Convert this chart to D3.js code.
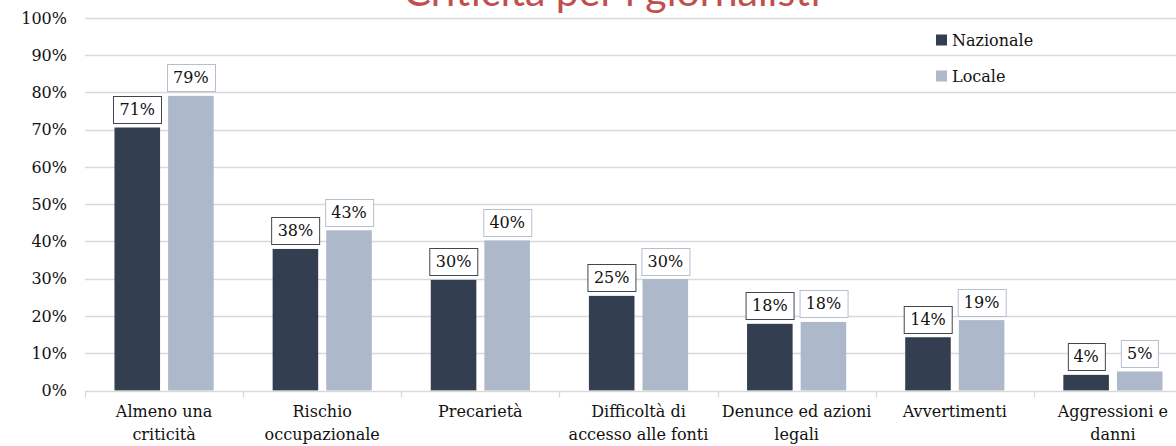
<!DOCTYPE html>
<html>
<head>
<meta charset="utf-8">
<script src="https://cdn.jsdelivr.net/npm/d3@7"></script>
<style>
  html, body { margin: 0; padding: 0; background: #fff; }
  svg { display: block; }
  text { font-family: "DejaVu Serif", serif; fill: #111; }
</style>
</head>
<body>
<svg id="chart" width="1176" height="446"></svg>
<script>
// chart data
let categories = [
  "Almeno una\ncriticità",
  "Rischio\noccupazionale",
  "Precarietà",
  "Difficoltà di\naccesso alle fonti",
  "Denunce ed azioni\nlegali",
  "Avvertimenti",
  "Aggressioni e\ndanni"
];
let seriesNames = ["Nazionale", "Locale"];
let nazionale = [70.6, 38.0, 29.7, 25.4, 17.9, 14.3, 4.2];
let locale = [79.1, 43.0, 40.3, 29.9, 18.4, 18.9, 5.1];
let yTicks = [0, 10, 20, 30, 40, 50, 60, 70, 80, 90, 100];
let title = "Criticità per i giornalisti";

let colorNaz = '#333f50';
let colorLoc = '#adb9ca';
let colorGrid = '#d9d9d9';

let width = 1176, height = 446;
// plot area runs past the right edge, as in the cropped original
let margin = { left: 85, right: -16, top: 18, bottom: 55.5 };

let svg = d3.select('#chart');

let x = d3.scaleBand()
  .domain(categories)
  .range([margin.left, width - margin.right]);

let x1 = d3.scaleBand()
  .domain(seriesNames)
  .range([0, x.bandwidth()])
  .paddingInner(0.15)
  .paddingOuter(0.55);

let y = d3.scaleLinear()
  .domain([0, 100])
  .range([height - margin.bottom, margin.top]);

// gridlines
svg.append('g')
  .selectAll('line')
  .data(yTicks.slice(1))
  .join('line')
  .attr('x1', margin.left)
  .attr('x2', width - margin.right)
  .attr('y1', d => Math.round(y(d)) + 0.5)
  .attr('y2', d => Math.round(y(d)) + 0.5)
  .attr('stroke', colorGrid)
  .attr('stroke-width', 1.3);

// y axis labels
svg.append('g')
  .selectAll('text')
  .data(yTicks)
  .join('text')
  .attr('x', 67)
  .attr('y', d => y(d))
  .attr('dy', '0.35em')
  .attr('text-anchor', 'end')
  .style('font-size', '16px')
  .text(d => d + '%');

// bars
let rows = categories.map((c, i) => ({ cat: c, vals: [nazionale[i], locale[i]] }));
let colors = [colorNaz, colorLoc];

let groups = svg.append('g')
  .selectAll('g')
  .data(rows)
  .join('g')
  .attr('transform', d => `translate(${x(d.cat)},0)`);

groups.selectAll('rect')
  .data(d => d.vals.map((v, j) => ({ s: seriesNames[j], v: v, j: j })))
  .join('rect')
  .attr('x', d => x1(d.s))
  .attr('width', x1.bandwidth())
  .attr('y', d => y(d.v))
  .attr('height', d => y(0) - y(d.v))
  .attr('fill', d => colors[d.j]);

// value labels in boxes
let labelBorders = ['#404652', '#b4c0d0'];
groups.each(function(d) {
  let g = d3.select(this);
  d.vals.forEach((v, j) => {
    let cx = x1(seriesNames[j]) + x1.bandwidth() / 2;
    let bottom = y(v) - 4.5;
    let t = g.append('text')
      .attr('x', cx)
      .attr('y', bottom - 8)
      .attr('text-anchor', 'middle')
      .style('font-size', '16px')
      .text(Math.round(v) + '%');
    let w = t.node().getComputedTextLength() + 12;
    g.insert('rect', 'text')
      .attr('x', Math.round(cx - w / 2) + 0.5)
      .attr('y', Math.round(bottom - 27) + 0.5)
      .attr('width', Math.round(w))
      .attr('height', 27)
      .attr('fill', '#fff')
      .attr('stroke', labelBorders[j])
      .attr('stroke-width', 1);
  });
});

// category axis
let axisY = Math.round(y(0)) + 0.5;
svg.append('line')
  .attr('x1', margin.left)
  .attr('x2', width - margin.right)
  .attr('y1', axisY)
  .attr('y2', axisY)
  .attr('stroke', colorGrid)
  .attr('stroke-width', 1.3);

let bounds = categories.map(c => x(c)).concat([x(categories[categories.length - 1]) + x.bandwidth()]);
svg.append('g')
  .selectAll('line')
  .data(bounds)
  .join('line')
  .attr('x1', d => Math.round(d) + 0.5)
  .attr('x2', d => Math.round(d) + 0.5)
  .attr('y1', axisY)
  .attr('y2', axisY + 6)
  .attr('stroke', colorGrid)
  .attr('stroke-width', 1.3);

svg.append('g')
  .selectAll('text')
  .data(categories)
  .join('text')
  .attr('x', d => x(d) + x.bandwidth() / 2)
  .attr('y', 417)
  .attr('text-anchor', 'middle')
  .style('font-size', '16px')
  .each(function(d) {
    let lines = d.split('\n');
    d3.select(this).selectAll('tspan')
      .data(lines)
      .join('tspan')
      .attr('x', x(d) + x.bandwidth() / 2)
      .attr('dy', (l, i) => i === 0 ? 0 : 22.5)
      .text(l => l);
  });

// legend
let legend = svg.append('g')
  .selectAll('g')
  .data(seriesNames)
  .join('g')
  .attr('transform', (d, i) => `translate(936,${40 + i * 36})`);

legend.append('rect')
  .attr('x', 0)
  .attr('y', -5.5)
  .attr('width', 11)
  .attr('height', 11)
  .attr('fill', (d, i) => colors[i]);

legend.append('text')
  .attr('x', 16)
  .attr('y', 0)
  .attr('dy', '0.35em')
  .style('font-size', '16px')
  .text(d => d);

// title, mostly cut off at the top like the original
svg.append('text')
  .attr('x', 612)
  .attr('y', 6)
  .attr('text-anchor', 'middle')
  .style('font-family', 'Lato, sans-serif')
  .style('font-size', '41px')
  .style('fill', '#c0504d')
  .text(title);
</script>
</body>
</html>
